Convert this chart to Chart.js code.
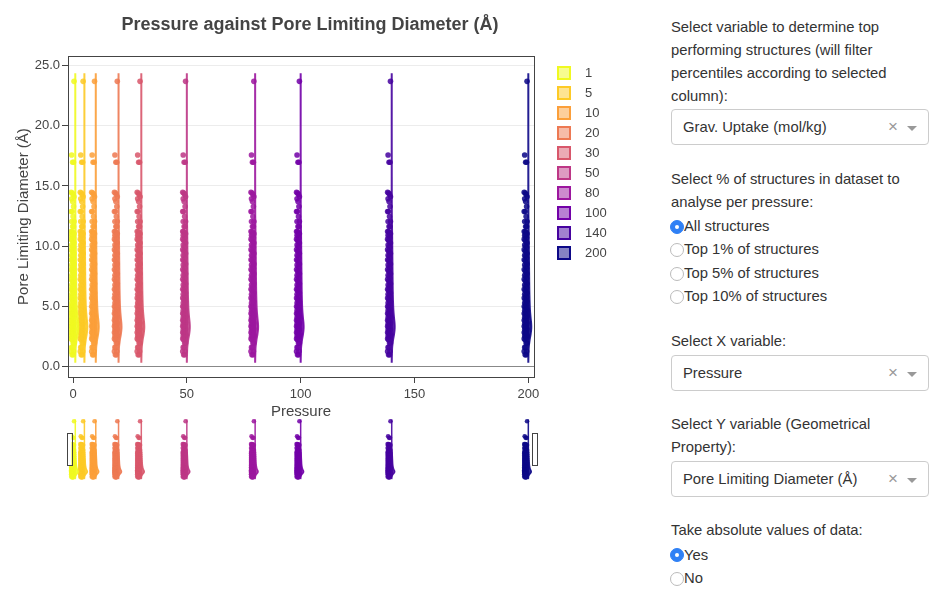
<!DOCTYPE html>
<html>
<head>
<meta charset="utf-8">
<script src="https://cdn.jsdelivr.net/npm/chart.js@4.4.1/dist/chart.umd.min.js"></script>
<style>
  body { margin: 0; background: #fff; width: 939px; height: 591px; overflow: hidden; position: relative;
         font-family: "Liberation Sans", Arial, Helvetica, sans-serif; }
  #main { position: absolute; left: 0; top: 0; }
  #slider { position: absolute; left: 0; top: 410px; }
  #legend { position: absolute; left: 557px; top: 66px; font-size: 13px; color: #444; }
  #legend .item { position: relative; height: 20px; }
  #legend .swatch { position: absolute; left: 0; top: 0; width: 14px; height: 14px; box-sizing: border-box; border: 2px solid; }
  #legend .name { position: absolute; left: 28px; top: 0; line-height: 14px; white-space: nowrap; }
  #panel { position: absolute; left: 671px; top: 15.5px; width: 258px; font-size: 14.8px; line-height: 23px; color: #333; white-space: nowrap; }
  .select { box-sizing: border-box; height: 36px; border: 1px solid #ccc; border-radius: 4px; margin: 1.5px 0 22.5px;
            position: relative; padding-left: 11px; line-height: 34px; }
  .select .x { position: absolute; right: 30px; top: 0; color: #999; font-size: 17px; }
  .select .caret { position: absolute; right: 11px; top: 16px; width: 0; height: 0;
                   border-left: 5px solid transparent; border-right: 5px solid transparent; border-top: 5px solid #999; }
  .radios { margin-top: 1.5px; }
  .radio { position: relative; padding-left: 13px; line-height: 23.4px; }
  .radio::before { content: ""; position: absolute; left: -1px; top: 4.7px; width: 14px; height: 14px; box-sizing: border-box;
                   border: 1px solid #bbb; border-radius: 50%; background: #fff; }
  .radio.on::before { background: #2f80f5; border-color: #2f80f5; }
  .radio.on::after { content: ""; position: absolute; left: 4px; top: 9.7px; width: 4px; height: 4px; border-radius: 50%; background: #fff; }
  .gap { margin-top: 21.5px; }
</style>
</head>
<body>
<canvas id="main" width="620" height="430" style="width:620px;height:430px"></canvas>
<canvas id="slider" width="620" height="80" style="width:620px;height:80px"></canvas>
<div id="legend"></div>
<div id="panel">
  <div>Select variable to determine top<br>performing structures (will filter<br>percentiles according to selected<br>column):</div>
  <div class="select">Grav. Uptake (mol/kg)<span class="x">×</span><span class="caret"></span></div>
  <div>Select % of structures in dataset to<br>analyse per pressure:</div>
  <div class="radios">
    <div class="radio on">All structures</div>
    <div class="radio">Top 1% of structures</div>
    <div class="radio">Top 5% of structures</div>
    <div class="radio">Top 10% of structures</div>
  </div>
  <div class="gap">Select X variable:</div>
  <div class="select">Pressure<span class="x">×</span><span class="caret"></span></div>
  <div>Select Y variable (Geometrical<br>Property):</div>
  <div class="select">Pore Limiting Diameter (Å)<span class="x">×</span><span class="caret"></span></div>
  <div>Take absolute values of data:</div>
  <div class="radios">
    <div class="radio on">Yes</div>
    <div class="radio">No</div>
  </div>
</div>
<script>
const pressures = [1, 5, 10, 20, 30, 50, 80, 100, 140, 200];
const colors = ["#f0f921", "#fdca26", "#fb9f3a", "#ed7953", "#d8576b", "#bd3786", "#9c179e", "#7201a8", "#46039f", "#0d0887"];

// pore limiting diameter of the structures (same set at every pressure)
const pldValues = [
  23.7, 17.58, 16.97, 16.97, 14.48, 14.42, 14.32, 14.1, 13.93, 13.71, 13.3, 12.88, 12.88, 12.46, 12.04, 12.04,
  11.63, 11.63, 11.21, 11.21,
  11.12, 11.03, 10.91, 10.84, 10.7, 10.58, 10.49, 10.33, 10.26, 10.1, 9.97, 9.88, 9.71, 9.6, 9.52, 9.38,
  9.24, 9.15, 9.02, 8.87, 8.8, 8.64, 8.51, 8.43, 8.29, 8.16, 8.05, 7.93, 7.81, 7.7, 7.58, 7.47, 7.33,
  7.25, 7.12, 6.98, 6.87, 6.76, 6.64, 6.55, 6.41, 6.32, 6.2, 6.11, 5.99, 5.9, 5.78, 5.69, 5.57, 5.48,
  5.39, 5.27, 5.18, 5.1, 4.98, 4.91, 4.82, 4.73, 4.65, 4.56, 4.47, 4.4, 4.31, 4.22, 4.16, 4.07, 3.99,
  3.92, 3.84, 3.77, 3.69, 3.61, 3.55, 3.47, 3.4, 3.33, 3.26, 3.18, 3.11, 3.05, 2.97, 2.9, 2.82, 2.75,
  2.67, 2.6, 2.52, 2.44, 2.37, 2.29, 2.21,
  1.94, 1.94, 1.58, 1.58, 1.25, 1.25, 0.97, 0.97
];

// half-violin outline: relative density at each level
const violinLevels  = [0.3, 0.9, 1.6, 2.2, 2.7, 3.2, 3.6, 4.1, 4.7, 5.5, 6.5, 8, 9.5, 11, 12.5, 14.4, 17.2, 20, 23.7, 24.37];
const violinDensity = [0, 0.05, 0.15, 0.45, 0.8, 1.0, 0.95, 0.75, 0.55, 0.42, 0.33, 0.26, 0.2, 0.13, 0.04, 0.02, 0.01, 0, 0.01, 0];

const xTicks = [0, 50, 100, 150, 200];
const yTicks = [0, 5, 10, 15, 20, 25];

const FONT = '"Liberation Sans", Arial, Helvetica, sans-serif';
const xRange = { min: -2.2, max: 202.5 };
const yRange = { min: -0.88, max: 25.8 };

function rgba(hex, a) {
  const n = parseInt(hex.slice(1), 16);
  return `rgba(${n >> 16}, ${(n >> 8) & 255}, ${n & 255}, ${a})`;
}

// points sit to the left of the violin baseline
const jitter = (i) => -0.55 - 1.25 * (((i * 5) % 7) / 6);

function buildDatasets(radius, lineWidth) {
  const sets = [];
  pressures.forEach((p, k) => {
    sets.push({
      type: "scatter",
      label: String(p),
      data: pldValues.map((y, i) => ({ x: p + jitter(i), y })),
      backgroundColor: rgba(colors[k], 0.86),
      pointRadius: radius,
      pointBorderWidth: 0,
      order: 1,
    });
    const up = violinLevels.map((y) => ({ x: p, y }));
    const down = violinLevels.map((y, i) => ({ x: p + violinDensity[i] * 1.3, y })).reverse();
    sets.push({
      type: "line",
      label: "violin " + p,
      data: up.concat(down),
      borderColor: rgba(colors[k], 0.9),
      backgroundColor: rgba(colors[k], 0.85),
      borderWidth: lineWidth,
      pointRadius: 0,
      tension: 0.2,
      fill: "shape",
      order: 0,
    });
  });
  return sets;
}

const framePlugin = {
  id: "frame",
  afterDraw(chart) {
    const { ctx, chartArea: a } = chart;
    ctx.save();
    ctx.strokeStyle = "#444";
    ctx.lineWidth = 1;
    ctx.strokeRect(Math.round(a.left) + 0.5, Math.round(a.top) + 0.5, Math.round(a.right - a.left), Math.round(a.bottom - a.top));
    ctx.restore();
  },
};

const handlePlugin = {
  id: "handles",
  afterDraw(chart) {
    const { ctx, chartArea: a } = chart;
    const mid = (a.top + a.bottom) / 2;
    ctx.save();
    ctx.fillStyle = "#fff";
    ctx.strokeStyle = "#444";
    ctx.lineWidth = 1;
    [a.left + 1, a.right].forEach((x) => {
      ctx.fillRect(x - 2.5, mid - 16, 5, 32);
      ctx.strokeRect(Math.round(x - 2.5) + 0.5, Math.round(mid - 16) + 0.5, 5, 32);
    });
    ctx.restore();
  },
};

new Chart(document.getElementById("main"), {
  type: "scatter",
  data: { datasets: buildDatasets(2.8, 2) },
  options: {
    responsive: false,
    animation: false,
    layout: { padding: 0 },
    plugins: {
      legend: { display: false },
      tooltip: { enabled: false },
      title: {
        display: true,
        text: "Pressure against Pore Limiting Diameter (Å)",
        color: "#444",
        font: { family: FONT, size: 18, weight: "bold" },
        padding: { top: 14.5, bottom: 20 },
      },
    },
    scales: {
      x: {
        type: "linear",
        position: "bottom",
        ...xRange,
        afterBuildTicks: (s) => { s.ticks = xTicks.map((v) => ({ value: v })); },
        afterFit: (s) => { s.height = 53; },
        ticks: { color: "#444", font: { family: FONT, size: 13 }, padding: 4, maxRotation: 0 },
        grid: { drawOnChartArea: false, tickLength: 6, tickColor: "#444" },
        border: { color: "#444" },
        title: { display: true, text: "Pressure", color: "#444", font: { family: FONT, size: 15 }, padding: { top: 0, bottom: 9 } },
      },
      y: {
        type: "linear",
        position: "left",
        ...yRange,
        afterBuildTicks: (s) => { s.ticks = yTicks.map((v) => ({ value: v })); },
        afterFit: (s) => { s.width = 68; },
        ticks: { color: "#444", font: { family: FONT, size: 13 }, padding: 2, callback: (v) => v.toFixed(1) },
        grid: {
          color: (c) => (c.tick && c.tick.value === 0 ? "#888" : "#ececec"),
          tickLength: 6,
          tickColor: "#444",
        },
        border: { color: "#444" },
        title: { display: true, text: "Pore Limiting Diameter (Å)", color: "#444", font: { family: FONT, size: 15 }, padding: { top: 15, bottom: 0 } },
      },
      yR: {
        position: "right",
        min: 0,
        max: 1,
        grid: { display: false },
        ticks: { display: false },
        border: { display: false },
        afterFit: (s) => { s.width = 86; },
      },
    },
  },
  plugins: [framePlugin],
});

new Chart(document.getElementById("slider"), {
  type: "scatter",
  data: { datasets: buildDatasets(2.3, 1.5) },
  options: {
    responsive: false,
    animation: false,
    layout: { padding: { left: 68, right: 86, top: 6, bottom: 8 } },
    plugins: { legend: { display: false }, tooltip: { enabled: false } },
    scales: {
      x: { type: "linear", display: false, ...xRange },
      y: { type: "linear", display: false, ...yRange },
    },
  },
  plugins: [handlePlugin],
});

// legend
const legend = document.getElementById("legend");
pressures.forEach((p, k) => {
  const item = document.createElement("div");
  item.className = "item";
  item.innerHTML = `<span class="swatch" style="border-color:${colors[k]};background:${rgba(colors[k], 0.5)}"></span><span class="name">${p}</span>`;
  legend.appendChild(item);
});
</script>
</body>
</html>
